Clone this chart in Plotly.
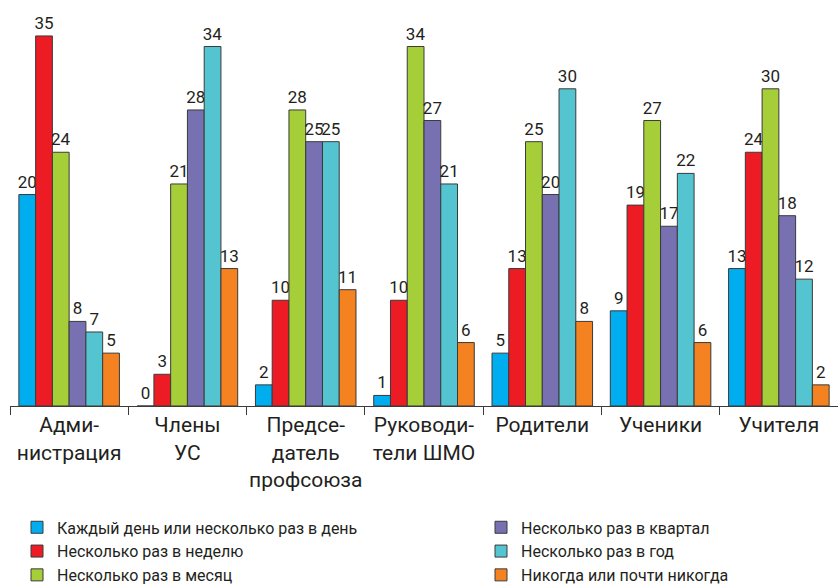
import plotly.graph_objects as go

categories = ["Адми-<br>нистрация", "Члены<br>УС", "Предсе-<br>датель<br>профсоюза",
              "Руководи-<br>тели ШМО", "Родители", "Ученики", "Учителя"]

series_names = ["Каждый день или несколько раз в день", "Несколько раз в неделю",
                "Несколько раз в месяц", "Несколько раз в квартал",
                "Несколько раз в год", "Никогда или почти никогда"]

daily = [20, 0, 2, 1, 5, 9, 13]
weekly = [35, 3, 10, 10, 13, 19, 24]
monthly = [24, 21, 28, 34, 25, 27, 30]
quarterly = [8, 28, 25, 27, 20, 17, 18]
yearly = [7, 34, 25, 21, 30, 22, 12]
never = [5, 13, 11, 6, 8, 6, 2]

colors = ["#00aeef", "#ed1c24", "#a6ce39", "#7771b2", "#54c5d0", "#f58220"]
legends = ["legend", "legend", "legend", "legend2", "legend2", "legend2"]

FONT = "Roboto, 'Open Sans', sans-serif"
TXT = "#231f20"

fig = go.Figure()
for name, vals, col, lg in zip(series_names, [daily, weekly, monthly, quarterly, yearly, never], colors, legends):
    fig.add_trace(go.Bar(
        x=categories, y=vals, name=name, legend=lg,
        marker=dict(color=col, line=dict(color="#3a3a3a", width=1)),
        text=[str(v) for v in vals], textposition="outside",
        textfont=dict(size=17, color=TXT, family=FONT),
        constraintext="none",
        cliponaxis=False,
    ))

W, PH = 828.0, 406.5
leg_top = 511
fig.update_layout(
    width=838, height=587,
    margin=dict(l=10, r=0, t=0, b=180.5, autoexpand=False),
    paper_bgcolor="white", plot_bgcolor="white",
    barmode="group", bargap=0.15, bargroupgap=0,
    font=dict(family=FONT, color=TXT),
    showlegend=True,
    legend=dict(x=(17 - 10) / W, y=(PH - leg_top) / PH,
                xanchor="left", yanchor="top", font=dict(size=16, color=TXT),
                tracegroupgap=0, itemwidth=30, bgcolor="rgba(0,0,0,0)"),
    legend2=dict(x=(481 - 10) / W, y=(PH - leg_top) / PH,
                 xanchor="left", yanchor="top", font=dict(size=16, color=TXT),
                 tracegroupgap=0, itemwidth=30, bgcolor="rgba(0,0,0,0)"),
)
fig.update_xaxes(showline=True, linecolor="#3a3a3a", linewidth=1,
                 ticks="outside", tickson="boundaries", ticklen=8, tickcolor="#3a3a3a",
                 tickangle=0, automargin=False,
                 tickfont=dict(size=21, color=TXT, family=FONT), showgrid=False)
fig.update_yaxes(range=[0, 38.4], visible=False, showgrid=False, zeroline=False)

fig.write_html("out.html")
